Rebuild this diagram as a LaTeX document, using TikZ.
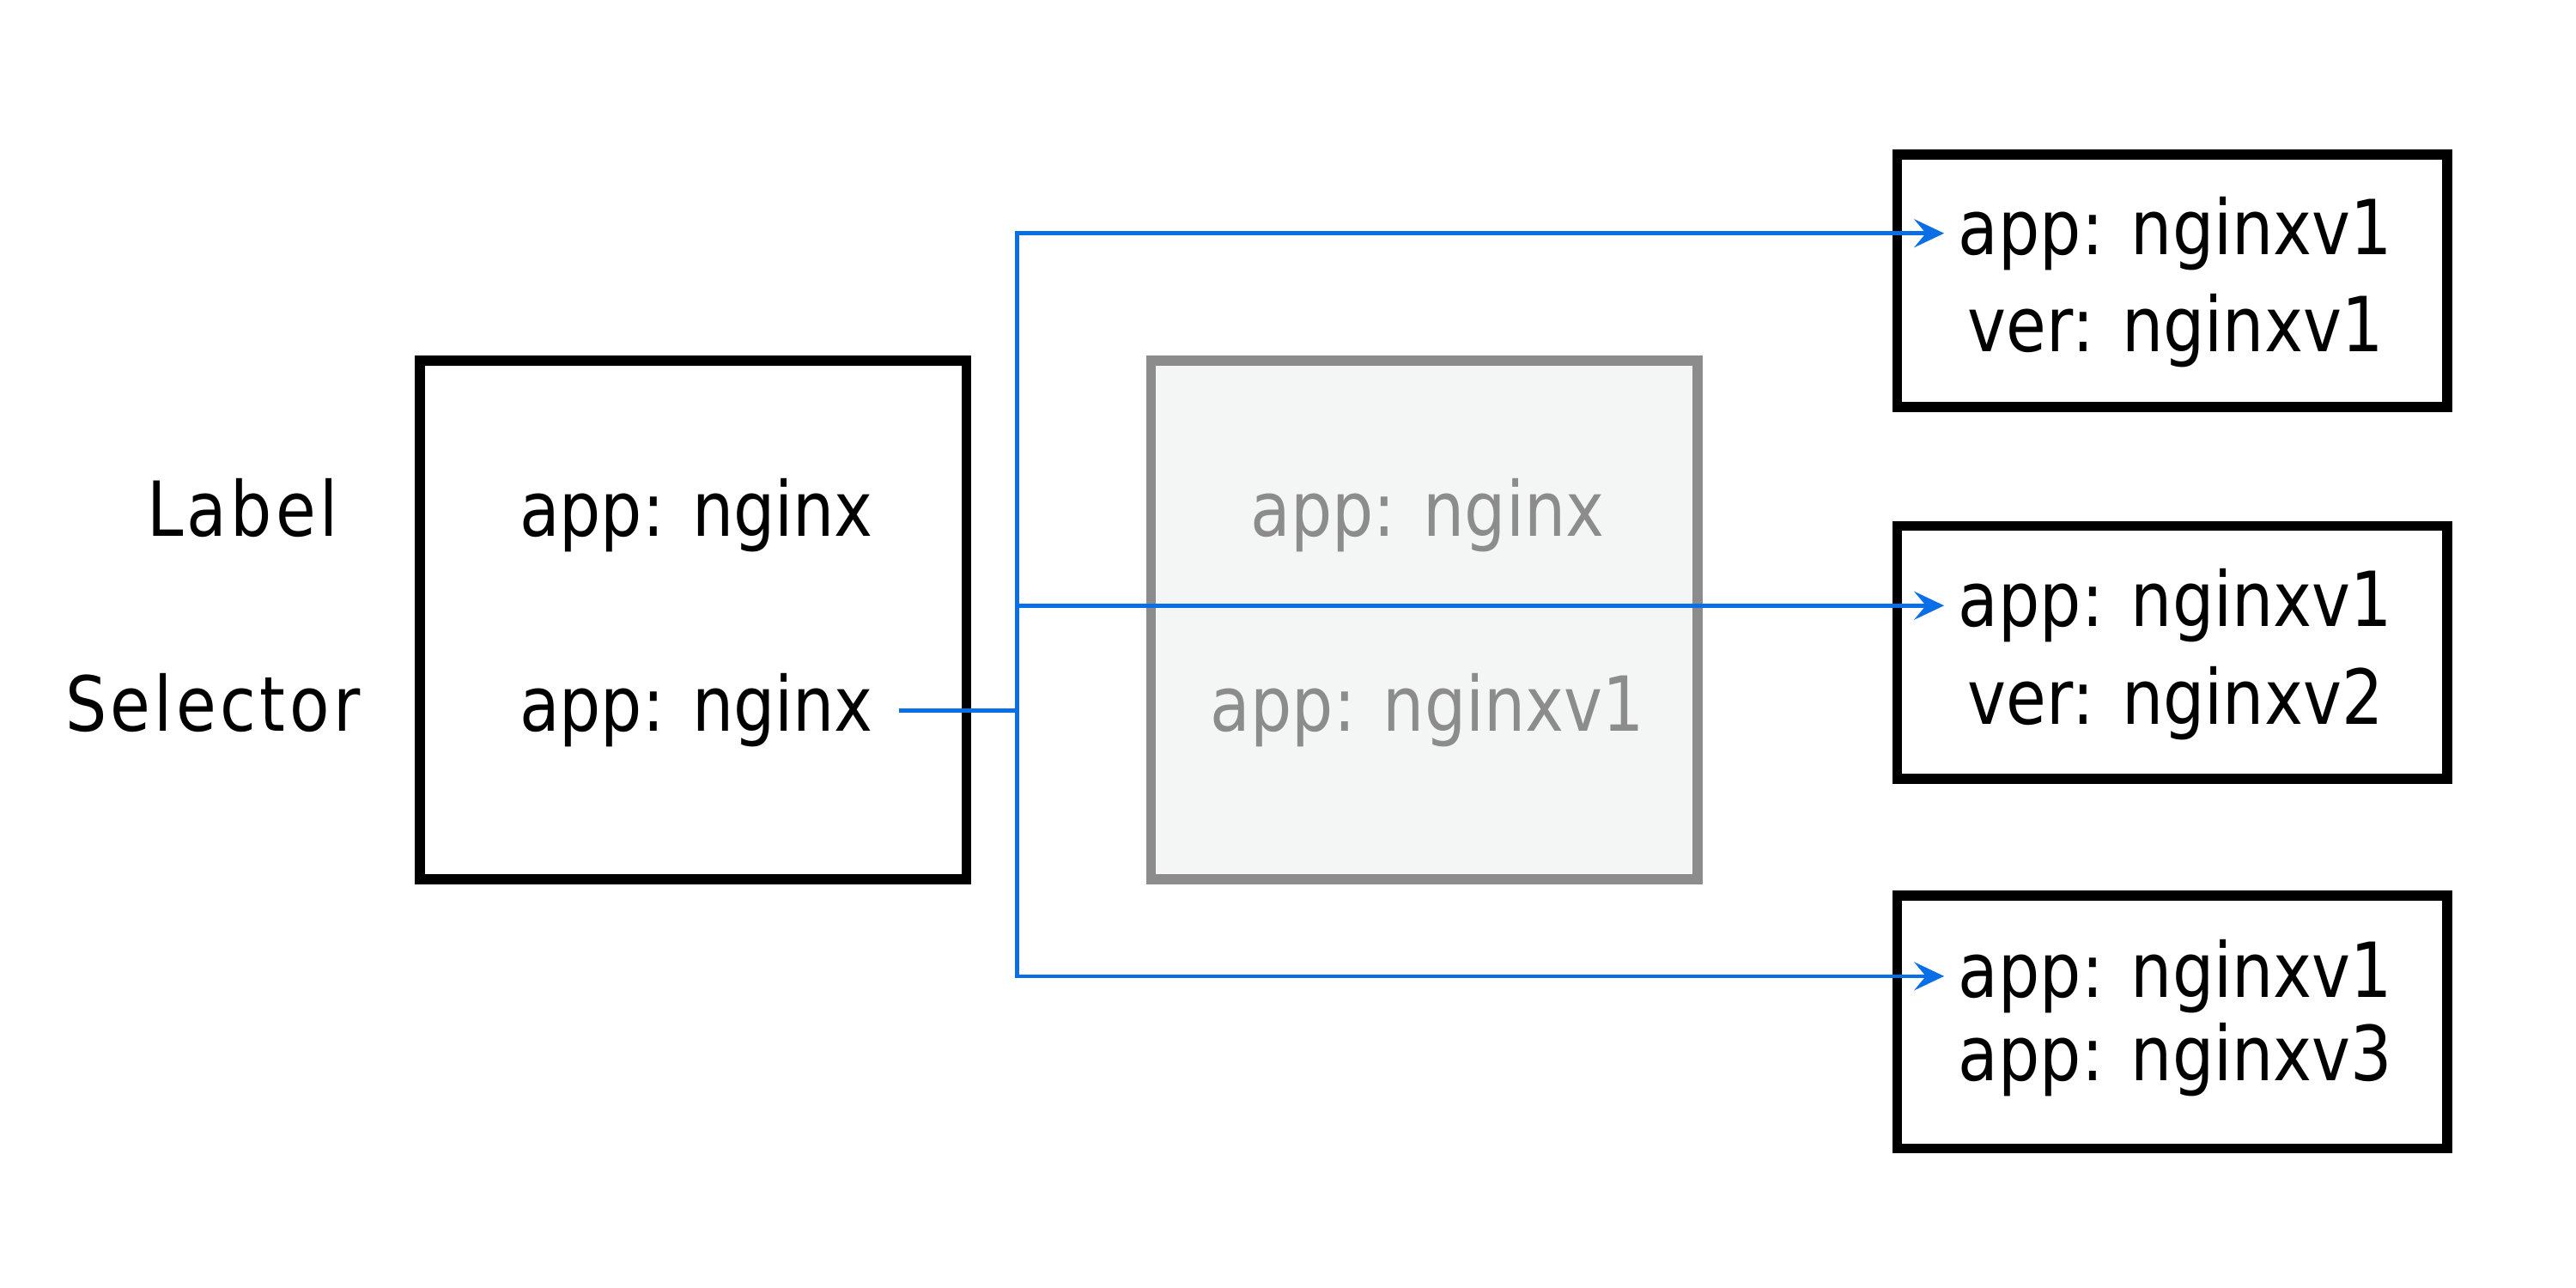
\documentclass[tikz,border=0pt]{standalone}
\usepackage{fontspec}
\setmainfont{DejaVu Sans}[FakeStretch=0.86]
\newfontfamily\sidefont{DejaVu Sans}[FakeStretch=0.86, LetterSpace=5]
\usetikzlibrary{arrows.meta}
\definecolor{linkblue}{RGB}{10,110,230}
\definecolor{oldgray}{HTML}{8C8C8C}
\definecolor{oldfill}{HTML}{F4F6F5}

\begin{document}
\begin{tikzpicture}[
    box/.style={draw, line width=0.06cm, minimum width=3.29cm, minimum height=3.12cm},
    pod/.style={draw, line width=0.06cm, minimum width=3.31cm, minimum height=1.52cm},
    txt/.style={anchor=base, inner sep=0pt, font=\fontsize{13}{16}\selectfont},
    wire/.style={linkblue, line width=0.024cm},
    linkarrow/.style={-{Stealth[length=0.18cm, width=0.17cm, inset=0.07cm]}, shorten >=0.08cm}
]
    % Fix the page size
    \useasboundingbox (0,0) rectangle (15.5,-7.75);

    % Draw the service box
    \node[box] (svc) at (4.17,-3.73) {};
    \node[txt] (svclabel) at (4.19,-3.225) {app: nginx};
    \node[txt] (svcsel) at (4.19,-4.40) {app: nginx};

    % Add the row names
    \node[txt, font=\fontsize{13}{16}\sidefont] (labelname) at (1.46,-3.225) {Label};
    \node[txt, font=\fontsize{13}{16}\sidefont] (selname) at (1.28,-4.40) {Selector};

    % Draw the greyed box
    \node[box, draw=oldgray, fill=oldfill] (old) at (8.57,-3.73) {};
    \node[txt, text=oldgray] (oldlabel) at (8.59,-3.225) {app: nginx};
    \node[txt, text=oldgray] (oldsel) at (8.59,-4.40) {app: nginxv1};

    % Draw the pods
    \node[pod] (pod1) at (13.07,-1.69) {};
    \node[txt] (pod1a) at (13.09,-1.53) {app: nginxv1};
    \node[txt] (pod1b) at (13.09,-2.118) {ver: nginxv1};

    \node[pod] (pod2) at (13.07,-3.925) {};
    \node[txt] (pod2a) at (13.09,-3.77) {app: nginxv1};
    \node[txt] (pod2b) at (13.09,-4.358) {ver: nginxv2};

    \node[pod] (pod3) at (13.07,-6.15) {};
    \node[txt] (pod3a) at (13.09,-6.00) {app: nginxv1};
    \node[txt] (pod3b) at (13.09,-6.50) {app: nginxv3};

    % Draw the selector links
    \coordinate (tap) at (svcsel.east -| 6.12,0);
    \draw[wire] ([xshift=0.15cm]svcsel.east) -- (tap);
    \foreach \p in {pod1a,pod2a,pod3a}
        \draw[wire, linkarrow] (tap) |- (\p.west);
\end{tikzpicture}
\end{document}
